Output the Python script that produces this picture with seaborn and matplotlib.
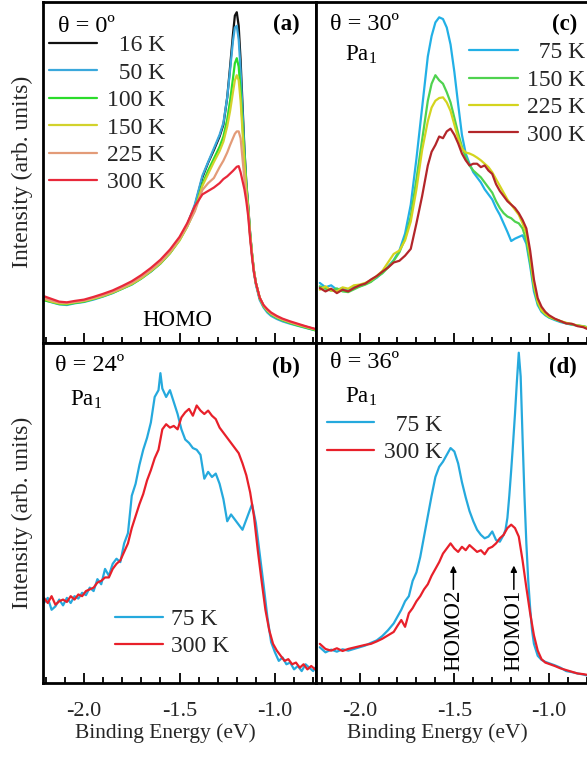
import matplotlib
matplotlib.use("Agg")
import matplotlib.pyplot as plt
from matplotlib.lines import Line2D
from matplotlib.ticker import MultipleLocator, FormatStrFormatter
import pandas as pd
import seaborn as sns

# ---------------- (a) theta = 0 deg, HOMO ----------------
energy_a = [-2.21, -2.17, -2.13, -2.09, -2.05, -2.00, -1.95, -1.90, -1.85, -1.80,
            -1.75, -1.70, -1.65, -1.60, -1.55, -1.50, -1.46, -1.42, -1.38, -1.35,
            -1.32, -1.29, -1.27, -1.25, -1.235, -1.22, -1.21, -1.20, -1.19, -1.18,
            -1.17, -1.16, -1.15, -1.14, -1.13, -1.12, -1.11, -1.10, -1.08, -1.06,
            -1.04, -1.02, -0.99, -0.96, -0.92, -0.88, -0.84, -0.79]
a_16K = [13.0, 12.2, 11.6, 11.5, 11.8, 12.2, 13.0, 13.9, 14.8, 16.0,
         17.3, 19.1, 21.0, 23.4, 26.5, 30.5, 34.5, 40.0, 48.5, 52.8,
         56.5, 60.5, 64.0, 72.0, 81.0, 90.5, 96.0, 97.0, 93.0, 83.0,
         70.0, 57.0, 47.0, 40.0, 32.0, 26.0, 21.0, 17.5, 13.0, 10.8,
         9.4, 8.4, 7.3, 6.6, 5.9, 5.2, 4.6, 3.9]
a_50K = [12.5, 11.8, 11.2, 11.0, 11.5, 11.9, 12.6, 13.5, 14.5, 15.8,
         17.0, 18.8, 20.8, 23.2, 26.3, 30.3, 34.5, 40.5, 49.0, 53.0,
         57.0, 61.0, 64.5, 72.0, 80.0, 88.5, 92.5, 93.0, 89.0, 80.0,
         68.0, 56.5, 46.5, 39.5, 31.5, 25.5, 20.5, 17.0, 12.5, 10.3,
         8.8, 7.8, 6.9, 6.2, 5.5, 4.9, 4.3, 3.6]
a_100K = [12.4, 11.9, 11.3, 11.2, 11.6, 12.0, 12.8, 13.6, 14.6, 15.8,
          17.1, 18.8, 20.9, 23.2, 26.2, 30.0, 34.0, 39.0, 46.5, 50.5,
          54.0, 57.5, 60.5, 65.5, 71.0, 77.5, 82.0, 83.5, 81.0, 74.0,
          64.0, 55.0, 46.0, 39.5, 32.0, 26.0, 21.0, 17.5, 13.0, 10.6,
          9.2, 8.2, 7.2, 6.5, 5.7, 5.0, 4.4, 3.6]
a_150K = [12.8, 12.0, 11.5, 11.4, 11.8, 12.2, 12.9, 13.7, 14.7, 15.9,
          17.2, 18.9, 21.0, 23.3, 26.3, 30.0, 34.0, 38.8, 46.0, 49.5,
          53.0, 56.2, 59.0, 63.5, 68.0, 73.5, 77.0, 78.5, 77.0, 71.0,
          62.0, 53.0, 45.0, 39.0, 31.5, 26.0, 21.0, 17.5, 13.2, 10.8,
          9.4, 8.4, 7.4, 6.7, 5.9, 5.2, 4.6, 3.8]
a_225K = [13.0, 12.3, 11.7, 11.6, 11.9, 12.3, 13.1, 13.9, 14.9, 16.1,
          17.5, 19.2, 21.3, 23.6, 26.6, 30.4, 34.2, 38.5, 44.8, 46.8,
          48.3, 51.5, 53.4, 55.8, 58.0, 60.0, 61.3, 62.0, 62.0, 60.0,
          54.0, 48.0, 43.0, 38.0, 31.0, 25.5, 21.0, 17.5, 13.2, 10.9,
          9.5, 8.5, 7.5, 6.8, 6.0, 5.3, 4.7, 3.9]
a_300K = [13.6, 12.8, 12.0, 11.8, 12.2, 12.6, 13.4, 14.3, 15.3, 16.6,
          18.0, 19.8, 21.9, 24.3, 27.3, 31.0, 35.0, 40.0, 43.5, 44.5,
          45.5, 46.8, 48.0, 48.8, 49.6, 50.4, 51.0, 51.6, 51.8, 50.0,
          47.5, 45.0, 41.5, 37.0, 30.5, 25.0, 20.5, 17.5, 13.2, 11.0,
          9.8, 8.8, 7.8, 7.0, 6.2, 5.5, 4.8, 4.0]
labels_a = ["16 K", "50 K", "100 K", "150 K", "225 K", "300 K"]
colors_a = ["#111111", "#3aa8dc", "#2bdc2b", "#d2d22c", "#e39b78", "#e8283a"]

# ---------------- (b) theta = 24 deg, Pa1 ----------------
energy_b_75K = [-2.21, -2.19, -2.17, -2.15, -2.13, -2.11, -2.09, -2.07, -2.05, -2.03,
                -2.01, -1.99, -1.97, -1.95, -1.93, -1.91, -1.89, -1.87, -1.85, -1.83,
                -1.81, -1.79, -1.77, -1.75, -1.73, -1.71, -1.69, -1.67, -1.65, -1.63,
                -1.61, -1.60, -1.59, -1.57, -1.55, -1.53, -1.51, -1.49, -1.47, -1.45,
                -1.43, -1.41, -1.39, -1.37, -1.35, -1.33, -1.31, -1.29, -1.27, -1.25,
                -1.23, -1.21, -1.19, -1.17, -1.15, -1.13, -1.12, -1.10, -1.08, -1.06,
                -1.04, -1.02, -1.00, -0.98, -0.96, -0.94, -0.92, -0.90, -0.88, -0.86,
                -0.84, -0.82, -0.80, -0.79]
b_75K = [23.5, 25.0, 21.5, 22.5, 24.5, 22.8, 25.0, 23.5, 25.5, 24.8,
         26.5, 25.8, 28.0, 27.0, 30.5, 29.0, 33.5, 31.5, 35.0, 36.5,
         35.5, 41.0, 44.0, 55.0, 58.5, 64.0, 68.5, 72.0, 76.5, 84.0,
         86.0, 91.0, 86.5, 84.0, 86.0, 82.5, 79.0, 74.5, 71.5, 70.5,
         69.0, 68.5, 67.0, 60.0, 62.0, 60.5, 61.5, 58.5, 54.0, 47.5,
         49.5, 48.0, 46.5, 45.0, 48.0, 51.0, 52.5, 47.0, 38.0, 29.0,
         19.5, 12.0, 9.0, 6.5, 7.5, 5.5, 6.0, 4.0, 5.0, 3.5,
         5.5, 4.5, 3.5, 4.5]
energy_b_300K = [-2.21, -2.19, -2.17, -2.15, -2.13, -2.11, -2.09, -2.07, -2.05, -2.03,
                 -2.01, -1.99, -1.97, -1.95, -1.93, -1.91, -1.89, -1.87, -1.85, -1.83,
                 -1.81, -1.79, -1.77, -1.75, -1.73, -1.71, -1.69, -1.67, -1.65, -1.63,
                 -1.61, -1.59, -1.57, -1.55, -1.53, -1.51, -1.49, -1.47, -1.45, -1.43,
                 -1.41, -1.39, -1.37, -1.35, -1.33, -1.31, -1.29, -1.27, -1.25, -1.23,
                 -1.21, -1.19, -1.17, -1.15, -1.13, -1.11, -1.09, -1.07, -1.05, -1.03,
                 -1.01, -0.99, -0.97, -0.95, -0.93, -0.91, -0.89, -0.87, -0.85, -0.83,
                 -0.81, -0.79]
b_300K = [25.0, 23.5, 25.5, 23.0, 24.0, 24.5, 23.8, 25.5, 24.5, 26.0,
          25.5, 27.0, 27.5, 28.0, 29.5, 30.0, 31.0, 31.0, 33.5, 35.0,
          36.0, 38.5, 41.0, 45.5, 49.0, 52.5, 55.5, 59.5, 62.5, 66.0,
          68.5, 74.5, 76.0, 75.0, 75.5, 74.5, 78.0, 79.5, 80.5, 78.5,
          81.5, 80.0, 79.0, 80.0, 78.5, 77.5, 75.0, 73.5, 72.0, 70.5,
          69.0, 67.5, 64.5, 61.0, 56.0, 49.0, 39.0, 30.0, 21.5, 15.5,
          11.5, 9.5, 8.0, 6.5, 7.0, 5.5, 6.0, 4.5, 5.5, 4.0,
          5.0, 4.0]
labels_bd = ["75 K", "300 K"]
colors_bd = ["#25a9dd", "#e8202a"]

# ---------------- (c) theta = 30 deg, Pa1 ----------------
energy_c = [-2.21, -2.18, -2.15, -2.12, -2.09, -2.06, -2.03, -2.00, -1.97, -1.94,
            -1.91, -1.88, -1.85, -1.82, -1.79, -1.76, -1.73, -1.70, -1.67, -1.64,
            -1.62, -1.60, -1.58, -1.56, -1.54, -1.52, -1.50, -1.48, -1.46, -1.44,
            -1.42, -1.40, -1.38, -1.36, -1.34, -1.32, -1.30, -1.28, -1.26, -1.24,
            -1.22, -1.20, -1.18, -1.16, -1.14, -1.12, -1.10, -1.08, -1.06, -1.04,
            -1.02, -1.00, -0.97, -0.94, -0.91, -0.88, -0.85, -0.82, -0.80]
c_75K = [17.5, 16.2, 16.8, 15.5, 16.0, 15.4, 16.3, 16.5, 17.2, 18.0,
         19.0, 20.5, 22.3, 24.2, 27.0, 32.0, 40.5, 54.0, 69.0, 84.0,
         90.0, 94.0, 95.5, 95.0, 92.5, 87.5, 79.5, 70.0, 61.0, 55.5,
         52.5, 50.0, 48.5, 47.0, 45.0, 43.5, 42.0, 39.5, 37.5, 35.0,
         32.5, 29.8, 30.5, 31.0, 31.5, 29.0, 22.5, 15.0, 11.0, 9.0,
         8.0, 7.3, 6.6, 6.0, 5.6, 5.2, 5.0, 4.7, 4.5]
c_150K = [16.5, 15.8, 15.2, 15.9, 15.0, 14.8, 15.6, 16.4, 17.0, 17.8,
          19.2, 20.3, 22.0, 24.0, 26.5, 30.5, 37.0, 48.0, 59.5, 71.0,
          76.0, 78.5, 77.0, 76.0, 73.5, 70.5, 66.0, 61.5, 57.5, 54.5,
          52.0, 50.5, 49.5, 48.5, 47.0, 45.5, 44.0, 41.5, 39.5, 38.0,
          37.0, 36.5, 35.5, 35.0, 33.5, 30.0, 23.5, 16.0, 11.5, 9.3,
          8.2, 7.4, 6.8, 6.2, 5.7, 5.3, 5.0, 4.8, 4.5]
c_225K = [15.5, 16.5, 15.3, 15.0, 16.2, 15.8, 16.8, 17.0, 17.5, 18.3,
          19.5, 21.0, 23.5, 26.0, 27.0, 30.0, 35.5, 45.0, 56.5, 65.0,
          69.0, 71.0, 71.8, 72.0, 70.5, 68.0, 64.0, 60.0, 57.0, 55.8,
          55.5, 55.0, 54.3, 53.5, 52.5, 51.5, 50.0, 48.0, 46.0, 44.0,
          42.0, 40.5, 39.0, 37.5, 35.0, 32.0, 25.0, 17.0, 12.0, 9.5,
          8.4, 7.6, 6.9, 6.3, 5.8, 5.4, 5.0, 4.7, 4.4]
c_300K = [16.0, 15.0, 15.8, 14.5, 15.5, 15.0, 16.0, 16.8, 17.3, 18.5,
          19.5, 20.8, 22.0, 23.5, 24.0, 25.5, 27.5, 35.0, 43.0, 52.0,
          56.0, 58.0, 60.5, 60.0, 62.0, 62.8, 61.0, 58.5, 55.5, 53.5,
          52.0, 52.5, 52.5, 51.5, 52.0, 50.5, 49.5, 46.5, 44.5, 43.0,
          41.5, 40.5, 39.5, 38.0, 36.0, 33.5, 27.0, 18.5, 13.0, 10.5,
          9.0, 8.0, 7.0, 6.3, 5.6, 5.5, 4.8, 4.5, 4.0]
labels_c = ["75 K", "150 K", "225 K", "300 K"]
colors_c = ["#22b0e6", "#4fd24f", "#d4d41e", "#b3262a"]

# ---------------- (d) theta = 36 deg, Pa1 ----------------
energy_d_75K = [-2.21, -2.18, -2.15, -2.12, -2.09, -2.06, -2.03, -2.00, -1.97, -1.94,
                -1.91, -1.88, -1.85, -1.82, -1.80, -1.78, -1.76, -1.74, -1.72, -1.70,
                -1.68, -1.66, -1.64, -1.62, -1.60, -1.58, -1.56, -1.54, -1.52, -1.50,
                -1.48, -1.46, -1.44, -1.42, -1.40, -1.38, -1.36, -1.34, -1.32, -1.30,
                -1.28, -1.26, -1.24, -1.23, -1.22, -1.21, -1.20, -1.19, -1.18, -1.17,
                -1.16, -1.15, -1.14, -1.13, -1.12, -1.11, -1.10, -1.09, -1.08, -1.06,
                -1.04, -1.02, -1.00, -0.97, -0.94, -0.91, -0.88, -0.85, -0.82, -0.80]
d_75K = [10.5, 9.0, 9.8, 9.2, 9.9, 9.5, 10.0, 10.5, 11.0, 11.8,
         12.5, 13.8, 15.5, 17.5, 19.5, 21.5, 24.0, 25.5, 30.0, 32.5,
         37.0, 43.0, 49.0, 55.0, 60.5, 63.5, 65.0, 67.0, 69.0, 68.0,
         64.5, 59.0, 54.5, 50.5, 47.5, 45.0, 43.5, 42.5, 43.0, 44.5,
         42.0, 41.5, 43.5, 45.0, 48.5, 55.0, 62.5, 70.5, 79.0, 88.5,
         97.0, 90.0, 72.0, 55.0, 41.0, 30.0, 22.0, 15.5, 11.5, 8.0,
         6.8, 6.2, 5.8, 5.2, 4.5, 3.5, 3.2, 2.8, 2.5, 2.2]
energy_d_300K = [-2.21, -2.18, -2.15, -2.12, -2.09, -2.06, -2.03, -2.00, -1.97, -1.94,
                 -1.91, -1.88, -1.85, -1.82, -1.80, -1.78, -1.76, -1.74, -1.72, -1.70,
                 -1.68, -1.66, -1.64, -1.62, -1.60, -1.58, -1.56, -1.54, -1.52, -1.50,
                 -1.48, -1.46, -1.44, -1.42, -1.40, -1.38, -1.36, -1.34, -1.32, -1.30,
                 -1.28, -1.26, -1.24, -1.22, -1.20, -1.18, -1.16, -1.14, -1.12, -1.10,
                 -1.08, -1.06, -1.04, -1.02, -1.00, -0.97, -0.94, -0.91, -0.88, -0.85,
                 -0.82, -0.80]
d_300K = [11.5, 10.0, 9.5, 10.2, 9.4, 10.0, 10.4, 10.8, 11.2, 11.5,
          12.2, 13.0, 14.0, 15.0, 16.8, 18.5, 16.5, 20.5, 22.0, 24.0,
          25.5, 27.5, 29.0, 31.5, 33.5, 35.5, 38.0, 39.5, 41.0, 39.5,
          38.5, 40.0, 39.0, 40.5, 39.5, 38.5, 39.0, 37.8, 39.5, 40.0,
          41.0, 42.5, 43.5, 45.5, 46.5, 45.5, 43.0, 36.0, 28.0, 20.5,
          14.0, 9.5, 7.0, 6.0, 5.6, 5.0, 4.3, 3.8, 3.3, 2.8,
          2.6, 2.4]

# peak markers in (d)
homo2_energy = -1.505
homo1_energy = -1.186


def long_frame(series):
    """series: list of (label, energies, intensities)."""
    parts = [pd.DataFrame({"E": e, "I": v, "T": lab}) for lab, e, v in series]
    return pd.concat(parts, ignore_index=True)


df_a = long_frame([(lab, energy_a, v) for lab, v in
                   zip(labels_a, [a_16K, a_50K, a_100K, a_150K, a_225K, a_300K])])
df_b = long_frame([("75 K", energy_b_75K, b_75K), ("300 K", energy_b_300K, b_300K)])
df_c = long_frame([(lab, energy_c, v) for lab, v in
                   zip(labels_c, [c_75K, c_150K, c_225K, c_300K])])
df_d = long_frame([("75 K", energy_d_75K, d_75K), ("300 K", energy_d_300K, d_300K)])

sns.set_theme(style="ticks")
plt.rcParams["font.family"] = ["Liberation Serif", "DejaVu Serif"]
plt.rcParams["mathtext.fontset"] = "custom"
plt.rcParams["mathtext.rm"] = "Liberation Serif"
plt.rcParams["mathtext.it"] = "Liberation Serif:italic"
plt.rcParams["axes.unicode_minus"] = False

W, H = 587, 757
fig, axes = plt.subplots(2, 2, figsize=(W / 100, H / 100), dpi=100,
                         gridspec_kw=dict(width_ratios=[273, 271]))
fig.subplots_adjust(left=43 / W, right=1.0, top=1 - 2 / H, bottom=1 - 683 / H,
                    wspace=0, hspace=0)
ax_a, ax_c = axes[0]
ax_b, ax_d = axes[1]

LW = 1.6
FS = 16.5
FS_LEG = 17


def draw(ax, df, order, colors):
    sns.lineplot(data=df, x="E", y="I", hue="T", hue_order=order, palette=colors,
                 estimator=None, sort=False, linewidth=LW, legend=False, ax=ax)


draw(ax_a, df_a, labels_a, colors_a)
draw(ax_b, df_b, labels_bd, colors_bd)
draw(ax_c, df_c, labels_c, colors_c)
draw(ax_d, df_d, labels_bd, colors_bd)

for ax, left_col in [(ax_a, True), (ax_b, True), (ax_c, False), (ax_d, False)]:
    ax.set_xlim(-2.215, -0.785) if left_col else ax.set_xlim(-2.23, -0.80)
    ax.set_ylim(0, 100)
    ax.set_yticks([])
    ax.xaxis.set_major_locator(MultipleLocator(0.5))
    ax.xaxis.set_minor_locator(MultipleLocator(0.1))
    ax.xaxis.set_major_formatter(FormatStrFormatter("%.1f"))
    ax.tick_params(axis="x", which="major", direction="in", length=7, width=1.3,
                   color="black", labelsize=16, pad=14, bottom=True, top=False)
    ax.tick_params(axis="x", which="minor", direction="in", length=4, width=1.3,
                   color="black", bottom=True, top=False)
    ax.tick_params(axis="y", left=False, right=False)
    for side, sp in ax.spines.items():
        sp.set_color("black")
        sp.set_linewidth(2.0)
    if not left_col:
        ax.spines["right"].set_visible(False)
    ax.set_xlabel("")
    ax.set_ylabel("")

for ax in (ax_a, ax_c):
    ax.tick_params(axis="x", labelbottom=False)

for ax in (ax_b, ax_d):
    ax.set_xlabel("Binding Energy (eV)", fontsize=15.5, labelpad=1.5)
ax_b.xaxis.label.set_x(0.45)
ax_d.xaxis.label.set_x(0.447)

for ax in (ax_a, ax_b):
    ax.set_ylabel("Intensity (arb. units)", fontsize=17)
    ax.yaxis.set_label_coords(-0.038, 0.5)


def legend(ax, labels, colors, x, y, handlelength, textpad):
    handles = [Line2D([], [], color=c, lw=LW) for c in colors]
    ax.legend(handles=handles, labels=labels, loc="upper left",
              bbox_to_anchor=(x, y), frameon=False, fontsize=FS_LEG,
              handlelength=handlelength, handletextpad=textpad,
              labelspacing=0.25, borderpad=0, borderaxespad=0)


# right-aligned temperature columns (two spaces = one digit)
legend(ax_a, ["  16 K", "  50 K", "100 K", "150 K", "225 K", "300 K"], colors_a,
       0.022, 0.904, 2.05, 0.4)
legend(ax_c, ["  75 K", "150 K", "225 K", "300 K"], colors_c,
       0.565, 0.883, 2.05, 0.4)
legend(ax_b, ["75 K", "300 K"], colors_bd, 0.264, 0.219, 2.05, 0.3)
legend(ax_d, ["  75 K", "300 K"], colors_bd, 0.041, 0.79, 2.0, 0.4)

txt = dict(fontsize=FS, color="black")
theta = dict(fontsize=17.5, color="black")
bold = dict(fontsize=FS, color="black", fontweight="bold")

ax_a.text(0.055, 0.912, "\u03b8 = 0\u00ba", transform=ax_a.transAxes, va="baseline", **theta)
ax_a.text(0.941, 0.917, "(a)", transform=ax_a.transAxes, ha="right", va="baseline", **bold)
ax_a.text(-1.513, 4.8, "HOMO", ha="center", va="baseline", **txt)

ax_b.text(0.044, 0.915, "\u03b8 = 24\u00ba", transform=ax_b.transAxes, va="baseline", **theta)
ax_b.text(0.099, 0.813, r"Pa$_1$", transform=ax_b.transAxes, va="baseline", **txt)
ax_b.text(0.941, 0.91, "(b)", transform=ax_b.transAxes, ha="right", va="baseline", **bold)

ax_c.text(0.052, 0.917, "\u03b8 = 30\u00ba", transform=ax_c.transAxes, va="baseline", **theta)
ax_c.text(0.107, 0.829, r"Pa$_1$", transform=ax_c.transAxes, va="baseline", **txt)
ax_c.text(0.963, 0.917, "(c)", transform=ax_c.transAxes, ha="right", va="baseline", **bold)

ax_d.text(0.052, 0.924, "\u03b8 = 36\u00ba", transform=ax_d.transAxes, va="baseline", **theta)
ax_d.text(0.107, 0.822, r"Pa$_1$", transform=ax_d.transAxes, va="baseline", **txt)
ax_d.text(0.963, 0.91, "(d)", transform=ax_d.transAxes, ha="right", va="baseline", **bold)

for e, name in [(homo2_energy, "HOMO2"), (homo1_energy, "HOMO1")]:
    ax_d.annotate("", xy=(e, 34.5), xytext=(e, 27.5),
                  arrowprops=dict(arrowstyle="-|>", color="black", lw=1.1,
                                  mutation_scale=9, shrinkA=0, shrinkB=0))
    ax_d.text(e, 15.5, name, rotation=90, ha="center", va="center", **txt)

fig.savefig("out.png", dpi=100, facecolor="white")
